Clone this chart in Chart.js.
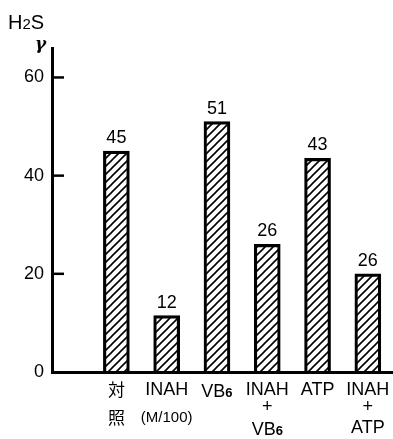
<!DOCTYPE html>
<html>
<head>
<meta charset="utf-8">
<script src="https://cdn.jsdelivr.net/npm/chart.js@4"></script>
<style>
  html, body { margin: 0; padding: 0; background: #fff; }
  canvas { display: block; }
</style>
</head>
<body>
<canvas id="h2s-chart" width="393" height="439"></canvas>
<script>
const categories = [['対', '照'], ['INAH', '(M/100)'], ['VB6'], ['INAH', '+', 'VB6'], ['ATP'], ['INAH', '+', 'ATP']];
const values = [45, 11.5, 51, 26, 43.5, 20];
const valueLabels = ['45', '12', '51', '26', '43', '26'];
const yTicks = [0, 20, 40, 60];

const FONT = '"Liberation Sans", Arial, sans-serif';
const CJK = '"Noto Sans CJK JP", sans-serif';

function makeHatch() {
  const c = document.createElement('canvas');
  c.width = 8;
  c.height = 8;
  const g = c.getContext('2d');
  g.strokeStyle = '#000';
  g.lineWidth = 1.6;
  g.beginPath();
  g.moveTo(-1, 9); g.lineTo(9, -1);
  g.moveTo(-1, 1); g.lineTo(1, -1);
  g.moveTo(7, 9); g.lineTo(9, 7);
  g.stroke();
  return g.createPattern(c, 'repeat');
}

// one text line, "VB6" gets a small 6
function drawLine(ctx, text, x, y) {
  const cjk = /[\u3000-\u9fff]/.test(text);
  if (text.endsWith('B6')) {
    const head = text.slice(0, -1);
    ctx.font = '18px ' + FONT;
    const w1 = ctx.measureText(head).width;
    ctx.font = 'bold 13px ' + FONT;
    const w2 = ctx.measureText('6').width;
    const left = x - (w1 + w2) / 2;
    ctx.textAlign = 'left';
    ctx.textBaseline = 'alphabetic';
    ctx.font = '18px ' + FONT;
    ctx.fillText(head, left, y + 6.5);
    ctx.font = 'bold 13px ' + FONT;
    ctx.fillText('6', left + w1, y + 6.5);
    return;
  }
  ctx.textAlign = 'center';
  ctx.textBaseline = 'middle';
  if (cjk) ctx.font = '17px ' + CJK;
  else if (text.startsWith('(')) ctx.font = '15px ' + FONT;
  else ctx.font = '18px ' + FONT;
  ctx.fillText(text, x, y);
}

const lineOffsets = { 1: [0], 2: [0, 28], 3: [0, 17, 38] };

const decorations = {
  id: 'decorations',
  afterDraw(chart) {
    const { ctx, chartArea, scales } = chart;
    const yScale = scales.y;
    const xScale = scales.x;
    ctx.save();
    ctx.fillStyle = '#000';
    ctx.strokeStyle = '#000';

    // inward tick marks
    ctx.lineWidth = 2.5;
    yTicks.forEach(v => {
      if (v === 0) return;
      const py = yScale.getPixelForValue(v);
      ctx.beginPath();
      ctx.moveTo(chartArea.left, py);
      ctx.lineTo(chartArea.left + 12, py);
      ctx.stroke();
    });

    // axis title H2S and gamma
    ctx.textAlign = 'left';
    ctx.textBaseline = 'alphabetic';
    ctx.font = '20px ' + FONT;
    ctx.fillText('H', 8, 29);
    let w = ctx.measureText('H').width;
    ctx.font = '15px ' + FONT;
    ctx.fillText('2', 8 + w, 29);
    w += ctx.measureText('2').width;
    ctx.font = '20px ' + FONT;
    ctx.fillText('S', 8 + w, 29);
    ctx.font = 'italic bold 17px "DejaVu Serif", serif';
    ctx.fillText('γ', 35, 49);

    // value labels above bars
    const meta = chart.getDatasetMeta(0);
    ctx.font = '18px ' + FONT;
    ctx.textAlign = 'center';
    ctx.textBaseline = 'alphabetic';
    meta.data.forEach((bar, i) => {
      ctx.fillText(valueLabels[i], bar.x, bar.y - 8);
    });

    // category labels
    categories.forEach((lines, i) => {
      const px = xScale.getPixelForValue(i + 1);
      const offs = lineOffsets[lines.length];
      lines.forEach((t, j) => {
        drawLine(ctx, t, px, chartArea.bottom + 18 + offs[j]);
      });
    });
    ctx.restore();
  }
};

const positions = categories.map((_, i) => i + 1);

new Chart(document.getElementById('h2s-chart'), {
  type: 'bar',
  data: {
    datasets: [
      {
        data: positions.map((x, i) => ({ x: x, y: values[i] })),
        backgroundColor: makeHatch(),
        borderColor: '#000',
        borderWidth: 2.5,
        barThickness: 26,
      },
    ],
  },
  options: {
    responsive: false,
    animation: false,
    devicePixelRatio: 1,
    layout: { padding: { top: 48, bottom: 67, left: 0, right: 0 } },
    plugins: {
      legend: { display: false },
      tooltip: { enabled: false },
    },
    scales: {
      x: {
        type: 'linear',
        offset: false,
        min: -0.28,
        max: 6.5,
        grid: { display: false, drawTicks: false },
        ticks: { display: false },
        border: { color: '#000', width: 3 },
        afterFit: s => { s.height = 0; s.paddingLeft = 0; s.paddingRight = 0; },
      },
      y: {
        min: 0,
        max: 66,
        afterBuildTicks: s => { s.ticks = yTicks.map(v => ({ value: v })); },
        grid: { display: false, drawTicks: false },
        border: { color: '#000', width: 3 },
        ticks: { color: '#000', font: { family: FONT, size: 18 }, padding: 8 },
        afterFit: s => { s.width = 52; s.paddingTop = 0; s.paddingBottom = 0; },
      },
    },
  },
  plugins: [decorations],
});
</script>
</body>
</html>
